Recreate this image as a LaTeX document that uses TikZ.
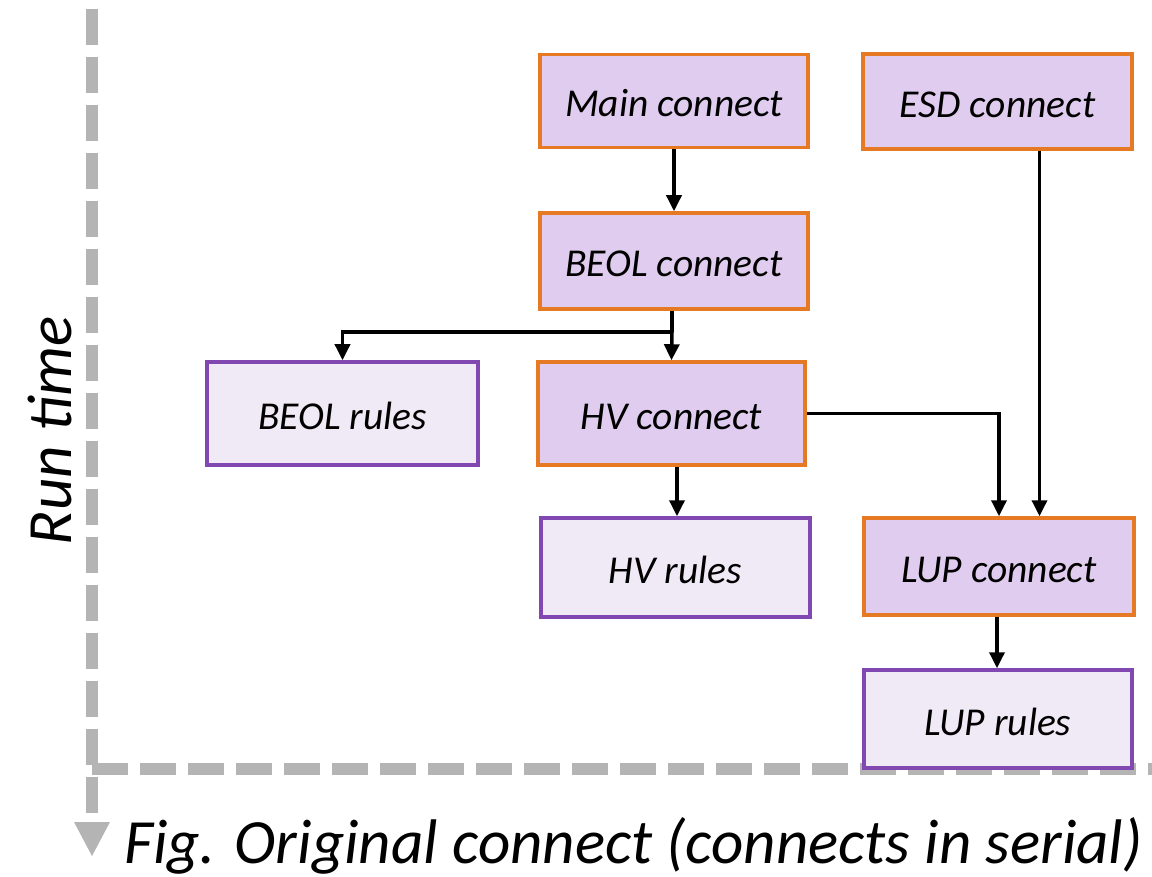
\documentclass[tikz,border=0pt]{standalone}
\usepackage{fontspec}
\setmainfont{Carlito}
\usetikzlibrary{arrows.meta}
\definecolor{connfill}{RGB}{224,204,238}
\definecolor{connedge}{RGB}{230,121,36}
\definecolor{rulefill}{RGB}{240,233,246}
\definecolor{ruleedge}{RGB}{128,72,176}
\definecolor{axisgray}{RGB}{180,180,180}
\tikzset{
  box/.style={rectangle, inner sep=0pt, line width=3.5pt, font=\fontsize{39.5}{46}\selectfont\itshape, text height=32pt, text depth=0pt},
  conn/.style={box, draw=connedge, fill=connfill},
  rules/.style={box, draw=ruleedge, fill=rulefill},
  arr/.style={line width=3.5pt, -{Triangle[length=16pt,width=15pt]}},
  link/.style={line width=3.5pt},
  axis/.style={draw=axisgray, line width=12pt, dash pattern=on 36pt off 12pt, line cap=butt}
}
\begin{document}
\begin{tikzpicture}[x=1pt,y=-1pt]
\useasboundingbox (0,0) rectangle (1152,877);
% time and flow axes
\draw[axis] (92,9) -- (92,813);
\draw[axis] (92,768.5) -- (1160,768.5);
\fill[axisgray] (74,822) -- (110,822) -- (92,856) -- cycle;
\node[rotate=90, inner sep=0pt, font=\fontsize{63}{72}\selectfont\itshape] (runtime) at (50,431) {Run time};
\node[anchor=base west, inner sep=0pt, font=\fontsize{63}{72}\selectfont\itshape] (caption) at (124,863) {Fig. Original connect (connects in serial)};
% connect stages
\node[conn, minimum width=268pt, minimum height=93pt] (main) at (674,101) {Main connect};
\node[conn, minimum width=269pt, minimum height=95pt] (esd) at (997.5,101.5) {ESD connect};
\node[conn, minimum width=268pt, minimum height=96pt] (beol) at (674,261) {BEOL connect};
\node[rules, minimum width=271pt, minimum height=103pt] (beolr) at (342.5,413.5) {BEOL rules};
\node[conn, minimum width=267pt, minimum height=103pt] (hv) at (671.5,413.5) {HV connect};
\node[rules, minimum width=269pt, minimum height=99pt] (hvr) at (675.5,567.5) {HV rules};
\node[conn, minimum width=270pt, minimum height=97pt] (lup) at (999,566.5) {LUP connect};
\node[rules, minimum width=268pt, minimum height=98pt] (lupr) at (998,719) {LUP rules};
% flow between stages
\draw[arr] (main.south) -- (beol.north);
\coordinate (split) at (672,332);
\draw[link] ([xshift=-2pt]beol.south) -- (split);
\draw[arr] (split) -- (hv.north);
\draw[arr] (split) -| (beolr.north);
\draw[arr] (hv.east) -| (lup.north);
\draw[arr] ([xshift=42pt]esd.south) -- ([xshift=42pt]esd.south |- lup.north);
\draw[arr] ([xshift=5.5pt]hv.south) -- ([xshift=5.5pt]hv.south |- hvr.north);
\draw[arr] ([xshift=-2pt]lup.south) -- ([xshift=-2pt]lup.south |- lupr.north);
\end{tikzpicture}
\end{document}
